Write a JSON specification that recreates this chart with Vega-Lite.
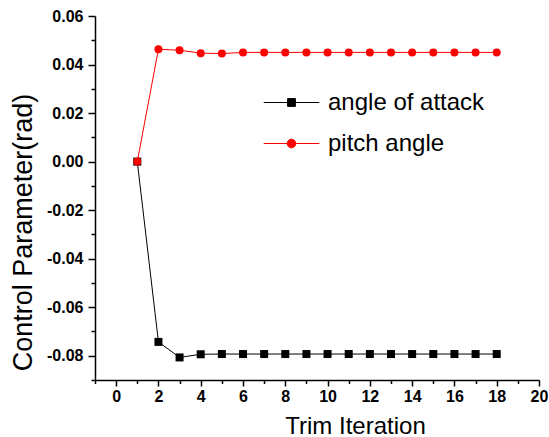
{
  "$schema": "https://vega.github.io/schema/vega-lite/v6.json",
  "autosize": {"type": "none"},
  "width": 444,
  "height": 364,
  "padding": {"left": 95, "top": 16, "right": 10, "bottom": 57},
  "background": "white",
  "config": {
    "view": {"stroke": null},
    "font": "Liberation Sans",
    "axis": {"grid": false, "domainColor": "black", "tickColor": "black", "domainWidth": 1.5, "tickWidth": 1.5, "labelColor": "black", "titleColor": "black", "labelFont": "Liberation Sans", "titleFont": "Liberation Sans", "labelFontWeight": "bold", "labelFontSize": 16, "titleFontWeight": "normal"}
  },
  "data": {"values": [
    {"iter": 1, "series": "angle of attack", "value": 0},
    {"iter": 2, "series": "angle of attack", "value": -0.0743},
    {"iter": 3, "series": "angle of attack", "value": -0.0807},
    {"iter": 4, "series": "angle of attack", "value": -0.0794},
    {"iter": 5, "series": "angle of attack", "value": -0.0793},
    {"iter": 6, "series": "angle of attack", "value": -0.0793},
    {"iter": 7, "series": "angle of attack", "value": -0.0793},
    {"iter": 8, "series": "angle of attack", "value": -0.0793},
    {"iter": 9, "series": "angle of attack", "value": -0.0793},
    {"iter": 10, "series": "angle of attack", "value": -0.0793},
    {"iter": 11, "series": "angle of attack", "value": -0.0793},
    {"iter": 12, "series": "angle of attack", "value": -0.0793},
    {"iter": 13, "series": "angle of attack", "value": -0.0793},
    {"iter": 14, "series": "angle of attack", "value": -0.0793},
    {"iter": 15, "series": "angle of attack", "value": -0.0793},
    {"iter": 16, "series": "angle of attack", "value": -0.0793},
    {"iter": 17, "series": "angle of attack", "value": -0.0793},
    {"iter": 18, "series": "angle of attack", "value": -0.0793},
    {"iter": 1, "series": "pitch angle", "value": 0},
    {"iter": 2, "series": "pitch angle", "value": 0.0463},
    {"iter": 3, "series": "pitch angle", "value": 0.0459},
    {"iter": 4, "series": "pitch angle", "value": 0.0447},
    {"iter": 5, "series": "pitch angle", "value": 0.0445},
    {"iter": 6, "series": "pitch angle", "value": 0.0450},
    {"iter": 7, "series": "pitch angle", "value": 0.0450},
    {"iter": 8, "series": "pitch angle", "value": 0.0450},
    {"iter": 9, "series": "pitch angle", "value": 0.0450},
    {"iter": 10, "series": "pitch angle", "value": 0.0450},
    {"iter": 11, "series": "pitch angle", "value": 0.0450},
    {"iter": 12, "series": "pitch angle", "value": 0.0450},
    {"iter": 13, "series": "pitch angle", "value": 0.0450},
    {"iter": 14, "series": "pitch angle", "value": 0.0450},
    {"iter": 15, "series": "pitch angle", "value": 0.0450},
    {"iter": 16, "series": "pitch angle", "value": 0.0450},
    {"iter": 17, "series": "pitch angle", "value": 0.0450},
    {"iter": 18, "series": "pitch angle", "value": 0.0450}
  ]},
  "encoding": {
    "x": {"field": "iter", "type": "quantitative",
      "scale": {"domain": [-1, 20], "nice": false, "zero": false},
      "axis": {"title": "Trim Iteration", "titleFontSize": 24, "titleX": 260, "titleY": 53, "titleBaseline": "alphabetic",
        "values": [-1,0,1,2,3,4,5,6,7,8,9,10,11,12,13,14,15,16,17,18,19,20],
        "labelExpr": "(datum.value >= 0 && datum.value % 2 === 0) ? '' + datum.value : ''",
        "tickSize": {"condition": {"test": "datum.value % 2 === 0", "value": 6}, "value": 3.5},
        "labelPadding": 2, "labelFlush": false, "labelOverlap": false}},
    "y": {"field": "value", "type": "quantitative",
      "scale": {"domain": [-0.09, 0.06], "nice": false, "zero": false},
      "axis": {"title": "Control Parameter(rad)", "titleFontSize": 27, "titleX": -64, "titleY": 216, "titleBaseline": "alphabetic", "titleAngle": -90,
        "values": [-0.09,-0.08,-0.07,-0.06,-0.05,-0.04,-0.03,-0.02,-0.01,0,0.01,0.02,0.03,0.04,0.05,0.06],
        "labelExpr": "(abs(round(datum.value*100)) % 2 === 0) ? ((datum.value < -0.0001 ? '-' : '') + format(abs(datum.value), '.2f')) : ''",
        "tickSize": {"condition": {"test": "abs(round(datum.value*100)) % 2 === 0", "value": 7}, "value": 4},
        "labelPadding": 5, "labelFlush": false, "labelOverlap": false}},
    "color": {"field": "series", "type": "nominal",
      "scale": {"domain": ["angle of attack", "pitch angle"], "range": ["#000000", "#ff0000"]},
      "legend": null}
  },
  "layer": [
    {
      "mark": {"type": "line", "strokeWidth": 1},
      "encoding": {
        "color": {"field": "series", "type": "nominal",
          "legend": {"title": null, "orient": "none", "legendX": 168, "legendY": 58, "padding": 0,
            "symbolType": "M-1,0H1M-0.14,-0.14H0.14V0.14H-0.14Z",
            "symbolSize": 3091, "symbolStrokeWidth": 1, "labelFontSize": 24, "labelFont": "Liberation Sans", "labelColor": "black",
            "labelOffset": 8, "rowPadding": -7, "labelLimit": 300,
            "encode": {"symbols": {"update": {
              "shape": {"signal": "datum.value === 'pitch angle' ? 'M-1,0H1M0.155,0A0.155,0.155 0 1 1 -0.155,0A0.155,0.155 0 1 1 0.155,0Z' : 'M-1,0H1M-0.14,-0.14H0.14V0.14H-0.14Z'"},
              "fill": {"signal": "datum.value === 'pitch angle' ? '#ff0000' : '#000000'"},
              "stroke": {"signal": "datum.value === 'pitch angle' ? '#ff0000' : '#000000'"},
              "strokeWidth": {"value": 1},
              "opacity": {"value": 1},
              "fillOpacity": {"value": 1}
            }}}}
        }
      }
    },
    {
      "transform": [{"filter": "datum.series === 'angle of attack'"}],
      "mark": {"type": "point", "shape": "square", "filled": true, "opacity": 1, "size": 64}
    },
    {
      "transform": [{"filter": "datum.series === 'pitch angle'"}],
      "mark": {"type": "point", "shape": "circle", "filled": true, "opacity": 1, "size": 64}
    }
  ]
}
